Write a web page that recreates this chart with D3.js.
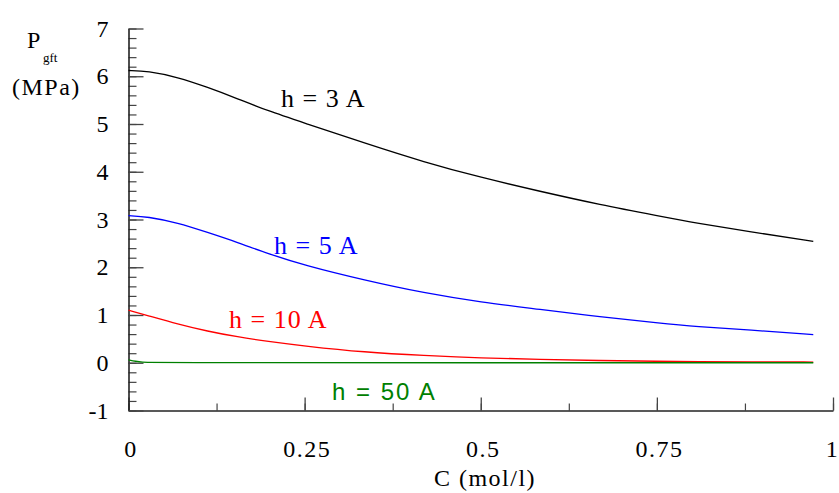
<!DOCTYPE html>
<html>
<head>
<meta charset="utf-8">
<script src="https://cdn.jsdelivr.net/npm/d3@7"></script>
<style>
  html, body { margin: 0; padding: 0; background: #fff; }
  svg { display: block; }
  .serif { font-family: "Liberation Serif", "Times New Roman", serif; }
</style>
</head>
<body>
<svg id="chart" width="839" height="493"></svg>
<script>
// ---- data ----
const cValues   = [0, 0.027, 0.07, 0.112, 0.155, 0.197, 0.25, 0.335, 0.42, 0.5, 0.584, 0.669, 0.754, 0.804, 0.889, 0.972];
const h3Values  = [6.12, 6.11, 5.98, 5.77, 5.53, 5.28, 5.02, 4.60, 4.20, 3.88, 3.59, 3.31, 3.07, 2.93, 2.73, 2.54];
const h5Values  = [3.08, 3.06, 2.93, 2.73, 2.52, 2.29, 2.04, 1.73, 1.46, 1.27, 1.12, 0.96, 0.83, 0.76, 0.68, 0.59];
const h10Values = [1.10, 0.99, 0.81, 0.66, 0.54, 0.45, 0.35, 0.22, 0.15, 0.10, 0.07, 0.045, 0.03, 0.025, 0.02, 0.015];
const c50Values = [0, 0.01, 0.02, 0.03, 0.972];
const h50Values = [0.06, 0.03, 0.01, 0, 0];
const seriesLabels = ["h = 3 A", "h = 5 A", "h = 10 A", "h = 50 A"];
const xTickValues = [0, 0.25, 0.5, 0.75, 1];
const xTickLabels = ["0", "0.25", "0.5", "0.75", "1"];
const yTickValues = [-1, 0, 1, 2, 3, 4, 5, 6, 7];

const svg = d3.select("#chart");
const x = d3.scaleLinear().domain([0, 1]).range([128.5, 833]);
const y = d3.scaleLinear().domain([-1, 7]).range([410.5, 28.5]);

// ---- axes ----
const xMinor = d3.range(0, 1.0001, 0.125);
const yMinor = d3.range(-1, 7.0001, 0.2);

const gx = svg.append("g").attr("transform", `translate(0,${y(-1)})`);
gx.call(d3.axisBottom(x).tickValues(xMinor).tickSizeInner(-7).tickSizeOuter(0).tickFormat(""));
gx.select(".domain").remove();
gx.selectAll(".tick line").attr("stroke", "#444").attr("stroke-width", 1.2);
const gx2 = svg.append("g").attr("transform", `translate(0,${y(-1)})`);
gx2.call(d3.axisBottom(x).tickValues(xTickValues).tickSizeInner(-13).tickSizeOuter(0)
  .tickPadding(29).tickFormat((d, i) => xTickLabels[i]));
gx2.select(".domain").attr("stroke", "#222").attr("stroke-width", 1.6);
gx2.selectAll(".tick line").attr("stroke", "#444").attr("stroke-width", 1.3);
gx2.selectAll(".tick text").attr("class", "serif").attr("font-size", 24)
  .attr("letter-spacing", "1.5px").attr("dx", d => d === 1 ? -1 : 2).attr("fill", "#000");

const gy = svg.append("g").attr("transform", `translate(${x(0)},0)`);
gy.call(d3.axisLeft(y).tickValues(yMinor).tickSizeInner(-8).tickSizeOuter(0).tickFormat(""));
gy.select(".domain").remove();
gy.selectAll(".tick line").attr("stroke", "#444").attr("stroke-width", 1.2);
const gy2 = svg.append("g").attr("transform", `translate(${x(0)},0)`);
gy2.call(d3.axisLeft(y).tickValues(yTickValues).tickSizeInner(-15).tickSizeOuter(0)
  .tickPadding(20).tickFormat(d3.format("d")));
gy2.select(".domain").attr("stroke", "#222").attr("stroke-width", 1.6);
gy2.selectAll(".tick line").attr("stroke", "#444").attr("stroke-width", 1.3);
gy2.selectAll(".tick text").attr("class", "serif").attr("font-size", 24).attr("fill", "#000")
  .text(d => d < 0 ? "-" + Math.abs(d) : d);

// ---- axis titles ----
svg.append("text").attr("class", "serif").attr("x", 485).attr("y", 486)
  .attr("text-anchor", "middle").attr("font-size", 24).attr("letter-spacing", "1.5px").text("C (mol/l)");
svg.append("text").attr("class", "serif").attr("x", 27).attr("y", 48).attr("font-size", 24).text("P");
svg.append("text").attr("class", "serif").attr("x", 43).attr("y", 62).attr("font-size", 13).text("gft");
svg.append("text").attr("class", "serif").attr("x", 12).attr("y", 95).attr("font-size", 24)
  .attr("letter-spacing", "1.5px").text("(MPa)");

// ---- curves ----
const line = d3.line().x(d => x(d[0])).y(d => y(d[1])).curve(d3.curveBasis);
const series = [
  { c: cValues, v: h3Values, color: "#000000" },
  { c: cValues, v: h5Values, color: "#0000ff" },
  { c: cValues, v: h10Values, color: "#ff0000" },
  { c: c50Values, v: h50Values, color: "#008000" }
];
series.forEach(s => {
  svg.append("path").datum(s.c.map((c, i) => [c, s.v[i]]))
    .attr("fill", "none").attr("stroke", s.color).attr("stroke-width", 1.3).attr("d", line);
});

// ---- curve labels ----
const labelPos = [
  { x: 281, y: 106.5, color: "#000000", sans: false },
  { x: 274, y: 254, color: "#0000ff", sans: false },
  { x: 229, y: 327.5, color: "#ff0000", sans: false },
  { x: 332, y: 400, color: "#008000", sans: true }
];
seriesLabels.forEach((t, i) => {
  const p = labelPos[i];
  svg.append("text").attr("x", p.x).attr("y", p.y).attr("fill", p.color)
    .attr("font-family", p.sans ? "'Liberation Sans', Arial, sans-serif" : "'Liberation Serif', 'Times New Roman', serif")
    .attr("font-size", p.sans ? 24 : 26).attr("letter-spacing", p.sans ? "2px" : "1px").text(t);
});
</script>
</body>
</html>
